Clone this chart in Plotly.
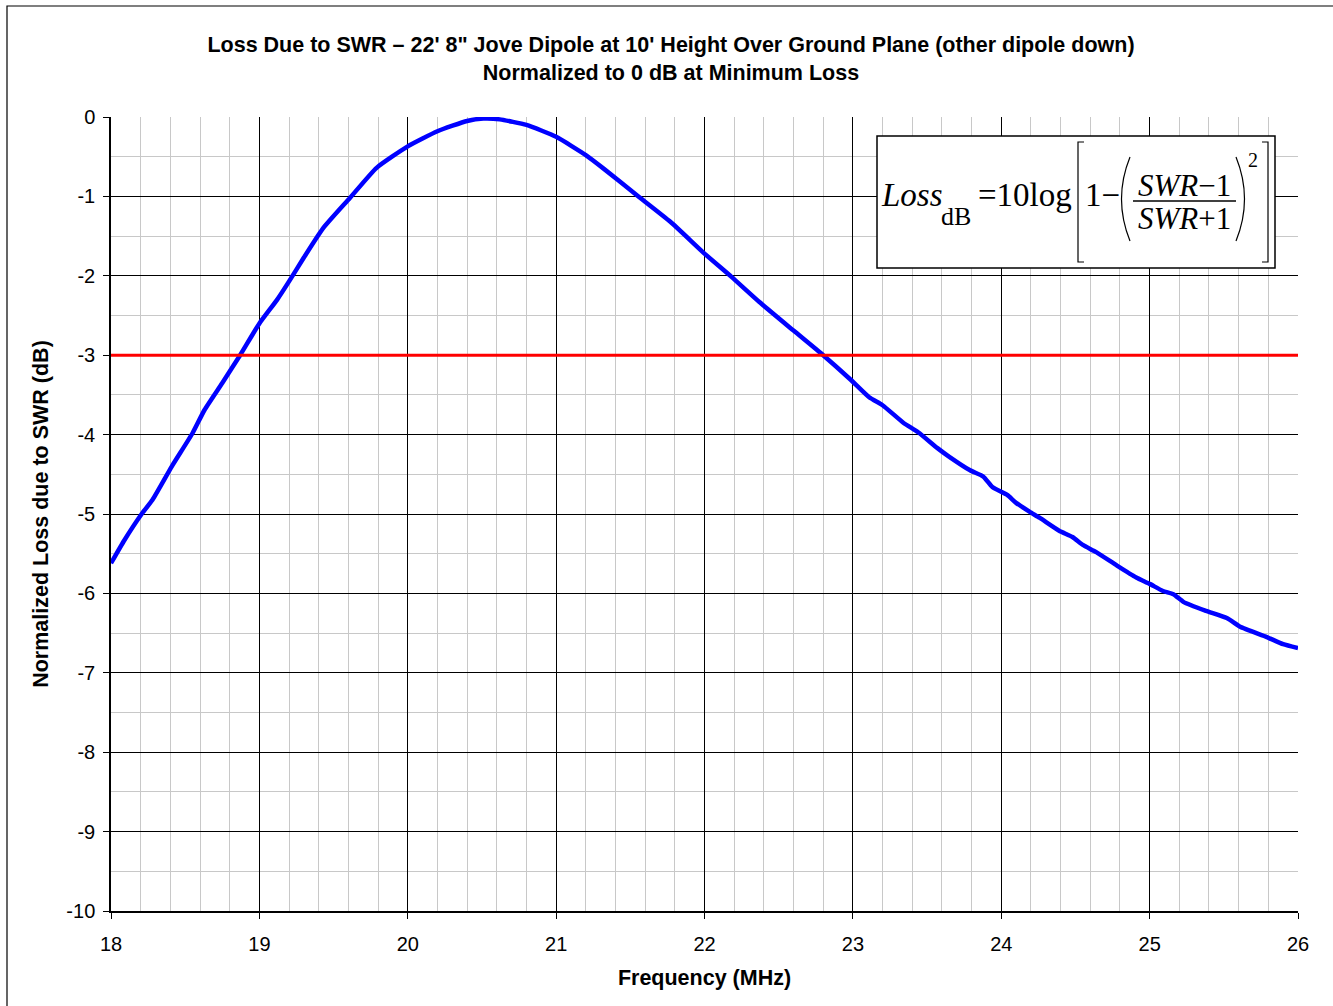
import plotly.graph_objects as go

# ---------------- data ----------------
freq_mhz = [18.0, 18.09, 18.21, 18.28, 18.41, 18.55, 18.63, 18.75, 18.87, 19.0,
            19.12, 19.2, 19.3, 19.43, 19.61, 19.79, 20.0, 20.2, 20.4, 20.51,
            20.62, 20.8, 21.0, 21.2, 21.32, 21.54, 21.77, 22.0, 22.18, 22.37,
            22.6, 22.8, 22.98, 23.11, 23.2, 23.34, 23.44, 23.57, 23.65, 23.79,
            23.88, 23.94, 24.04, 24.1, 24.19, 24.26, 24.39, 24.48, 24.55, 24.64,
            24.78, 24.91, 25.0, 25.09, 25.16, 25.23, 25.38, 25.52, 25.61, 25.79,
            25.9, 26.0]
loss_db = [-5.62, -5.33, -4.99, -4.82, -4.40, -3.98, -3.69, -3.35, -3.0, -2.60,
           -2.30, -2.07, -1.77, -1.40, -1.02, -0.64, -0.37, -0.18, -0.05, -0.02,
           -0.03, -0.10, -0.25, -0.48, -0.65, -0.98, -1.32, -1.72, -2.01, -2.33,
           -2.69, -3.0, -3.30, -3.53, -3.63, -3.85, -3.97, -4.17, -4.28, -4.45,
           -4.53, -4.66, -4.76, -4.86, -4.97, -5.05, -5.21, -5.29, -5.39, -5.48,
           -5.65, -5.80, -5.88, -5.97, -6.01, -6.11, -6.22, -6.31, -6.42, -6.55,
           -6.64, -6.69]
ref_level_db = -3.0
x_tick_vals = [18, 19, 20, 21, 22, 23, 24, 25, 26]
y_tick_vals = [0, -1, -2, -3, -4, -5, -6, -7, -8, -9, -10]
y_tick_text = ["0", "-1", "-2", "-3", "-4", "-5", "-6", "-7", "-8", "-9", "-10"]

title_text = ("Loss Due to SWR \u2013 22' 8\" Jove Dipole at 10' Height Over Ground Plane "
              "(other dipole down)<br>Normalized to 0 dB at Minimum Loss")
x_title = "Frequency (MHz)"
y_title = "Normalized Loss due to SWR (dB)"

# ---------------- layout geometry ----------------
W, H = 1333, 1006
PL, PR, PT, PB = 111, 1298, 117, 911   # plot area in pixels


def P(x, y):
    """pixel -> paper coordinates"""
    return (x - PL) / (PR - PL), (PB - y) / (PB - PT)


SANS = "Liberation Sans, Arial, sans-serif"
SERIF = "Liberation Serif, Times New Roman, serif"

fig = go.Figure()
fig.add_trace(go.Scatter(x=freq_mhz, y=loss_db, mode="lines",
                         line=dict(color="#0000ff", width=4.5, shape="spline", smoothing=0.5),
                         showlegend=False, hoverinfo="x+y"))
fig.add_trace(go.Scatter(x=[x_tick_vals[0], x_tick_vals[-1]],
                         y=[ref_level_db, ref_level_db], mode="lines",
                         line=dict(color="#ff0000", width=3), showlegend=False))

shapes = []
# outer frame
fx0, fy0 = P(7, 1012)
fx1, fy1 = P(1340, 6)
shapes.append(dict(type="rect", xref="paper", yref="paper", x0=fx0, x1=fx1, y0=fy0, y1=fy1,
                   line=dict(color="#000000", width=1.2), layer="below"))
# formula box
bx0, by0 = P(877, 268)
bx1, by1 = P(1275, 136)
shapes.append(dict(type="rect", xref="paper", yref="paper", x0=bx0, x1=bx1, y0=by0, y1=by1,
                   line=dict(color="#000000", width=1.5), fillcolor="#ffffff", layer="above"))


def path(points):
    s = ""
    for i, (x, y) in enumerate(points):
        px, py = P(x, y)
        s += ("M" if i == 0 else "L") + f"{px:.5f},{py:.5f} "
    return s


def qpath(p0, c, p1):
    a = P(*p0); b = P(*c); d = P(*p1)
    return f"M{a[0]:.5f},{a[1]:.5f} Q{b[0]:.5f},{b[1]:.5f} {d[0]:.5f},{d[1]:.5f}"


fline = dict(color="#000000", width=1.2)
# square brackets
shapes.append(dict(type="path", xref="paper", yref="paper",
                   path=path([(1084, 142), (1078, 142), (1078, 262), (1084, 262)]), line=fline))
shapes.append(dict(type="path", xref="paper", yref="paper",
                   path=path([(1262, 142), (1268, 142), (1268, 262), (1262, 262)]), line=fline))
# parentheses
shapes.append(dict(type="path", xref="paper", yref="paper",
                   path=qpath((1130, 157), (1113, 199), (1130, 241)), line=fline))
shapes.append(dict(type="path", xref="paper", yref="paper",
                   path=qpath((1236, 157), (1253, 199), (1236, 241)), line=fline))
# fraction bar
shapes.append(dict(type="path", xref="paper", yref="paper",
                   path=path([(1133, 201), (1236, 201)]), line=dict(color="#000000", width=1.3)))

annotations = []


def txt(s, cx, cy, size, italic=False):
    x, y = P(cx, cy)
    annotations.append(dict(text=s, x=x, y=y, xref="paper", yref="paper",
                            xanchor="center", yanchor="middle", showarrow=False,
                            font=dict(family=SERIF, size=size, color="#000000",
                                      style="italic" if italic else "normal")))


txt("Loss", 912, 195, 33, italic=True)
txt("dB", 956, 217, 26)
txt("=10log", 1025, 195, 33)
txt("1\u2212", 1102, 195, 33)
txt("<i>SWR</i>\u22121", 1184, 185, 31)
txt("<i>SWR</i>+1", 1184, 218, 31)
txt("2", 1253, 160, 20)

fig.update_layout(
    width=W, height=H,
    margin=dict(l=PL, r=W - PR, t=PT, b=H - PB, pad=0),
    paper_bgcolor="#ffffff", plot_bgcolor="#ffffff",
    font=dict(family=SANS, color="#000000"),
    title=dict(text=f"<b>{title_text}</b>", x=671 / W, xanchor="center",
               y=1 - 52 / H, yanchor="middle", yref="container",
               font=dict(family=SANS, size=21.5, color="#000000")),
    shapes=shapes, annotations=annotations,
    showlegend=False,
)
fig.update_xaxes(range=[x_tick_vals[0], x_tick_vals[-1]], tickvals=x_tick_vals,
                 showgrid=True, gridcolor="#000000", gridwidth=1,
                 showline=True, linecolor="#000000", linewidth=1.5, mirror=False,
                 ticks="outside", ticklen=6, tickcolor="#000000", tickwidth=1,
                 ticklabelstandoff=8,
                 tickfont=dict(size=20, family=SANS, color="#000000"),
                 minor=dict(dtick=0.2, showgrid=True, gridcolor="#c8c8c8", gridwidth=1, ticks=""),
                 title=dict(text=f"<b>{x_title}</b>", font=dict(size=21.5, family=SANS), standoff=16),
                 zeroline=False, automargin=False)
fig.update_yaxes(range=[y_tick_vals[-1], y_tick_vals[0]], tickvals=y_tick_vals, ticktext=y_tick_text,
                 showgrid=True, gridcolor="#000000", gridwidth=1,
                 showline=True, linecolor="#000000", linewidth=1.5, mirror=False,
                 ticks="outside", ticklen=6, tickcolor="#000000", tickwidth=1,
                 ticklabelstandoff=4,
                 tickfont=dict(size=20, family=SANS, color="#000000"),
                 minor=dict(dtick=0.5, showgrid=True, gridcolor="#c8c8c8", gridwidth=1, ticks=""),
                 title=dict(text=f"<b>{y_title}</b>", font=dict(size=21.5, family=SANS), standoff=12),
                 zeroline=False, automargin=False)

fig.write_html("out.html")
